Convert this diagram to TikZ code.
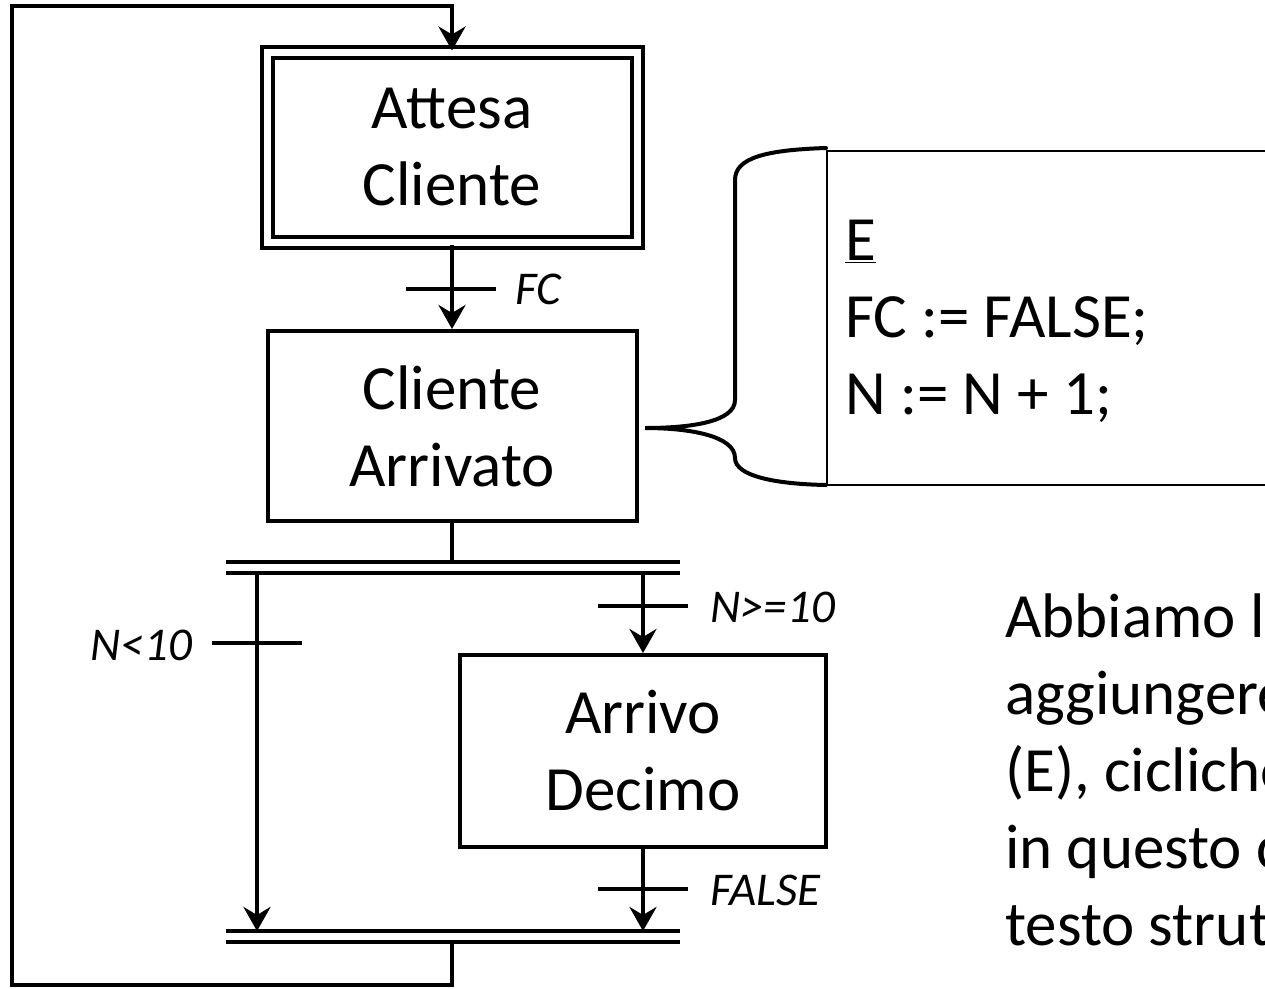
\documentclass[tikz,border=0pt]{standalone}
\usepackage{fontspec}
\setmainfont{Carlito}
\usetikzlibrary{arrows.meta}
\newcommand\mainsz{\fontsize{63}{77}\selectfont}
\newcommand\lblsz{\fontsize{47}{56}\selectfont\itshape}
\begin{document}
\begin{tikzpicture}[x=1pt,y=-1pt,
  line/.style={line width=4pt},
  barline/.style={line width=4.5pt},
  arr/.style={line width=4pt,-{Stealth[length=24pt,width=27pt,inset=8pt]}},
  stepbox/.style={draw,line width=4pt,rectangle,inner sep=0pt,align=center,font=\mainsz},
  initbox/.style={stepbox,double,double distance=7pt},
  lbl/.style={inner sep=0pt,font=\lblsz},
  txt/.style={inner sep=0pt,align=left,font=\mainsz}]
\useasboundingbox (0,0) rectangle (1265,988);
\clip (0,0) rectangle (1265,988);
\fill[white] (0,0) rectangle (1265,988);

% steps
\node[initbox, minimum width=370pt, minimum height=190pt] (attesa) at (452,147.5) {Attesa\\Cliente};
\node[stepbox, minimum width=369pt, minimum height=190pt] (arrivato) at (452,426) {Cliente\\Arrivato};
\node[stepbox, minimum width=366pt, minimum height=192pt] (decimo) at (643,751) {Arrivo\\Decimo};

% fork / join coordinates
\coordinate (fork) at (452,562);
\coordinate (forkL) at (257,573);
\coordinate (forkR) at (643,573);
\coordinate (joinL) at (257,931);
\coordinate (joinR) at (643,931);
\coordinate (join) at (452,942);

% double bars
\draw[barline] (226,562) -- (680,562);
\draw[barline] (226,573) -- (680,573);
\draw[barline] (226,931) -- (680,931);
\draw[barline] (226,942) -- (680,942);

% connectors
\draw[arr] (attesa.south) -- (arrivato.north);
\draw[line] (arrivato.south) -- (fork);
\draw[arr] (forkL) -- (joinL);
\draw[arr] (forkR) -- (decimo.north);
\draw[arr] (decimo.south) -- (joinR);
\draw[arr] (join) -- ++(0,43) -| (12,6) -| (attesa.north);

% transitions
\draw[line] (406,289) -- (496,289);
\node[lbl, anchor=base west] (lfc) at (515,304) {FC};
\draw[line] (212,643) -- (302,643);
\node[lbl, anchor=base east] (llt) at (192,660) {N<10};
\draw[line] (598,606) -- (688,606);
\node[lbl, anchor=base west] (lge) at (710,622) {N>=10};
\draw[line] (598,889) -- (688,889);
\node[lbl, anchor=base west] (lfalse) at (710,905) {FALSE};

% action box with brace
\node[draw, line width=1.5pt, minimum width=480pt, minimum height=334pt, anchor=north west, inner sep=0pt] (code) at (826,150) {};
\node[txt, anchor=north west] (codetxt) at (845,220) {\underline{E}\\FC := FALSE;\\N := N + 1;};
\draw[line width=4pt, line cap=round] (826,148) .. controls (765,150) and (735,158) .. (735,180) -- (735,400) .. controls (735,422) and (690,428) .. (645,428) .. controls (690,428) and (735,436) .. (735,458) .. controls (735,476) and (775,484) .. (826,485);

% note
\node[txt, anchor=base west] (note) at (1005,945) {Abbiamo la\\aggiungere\\(E), cicliche\\in questo caso\\testo strutturato};
\end{tikzpicture}
\end{document}
